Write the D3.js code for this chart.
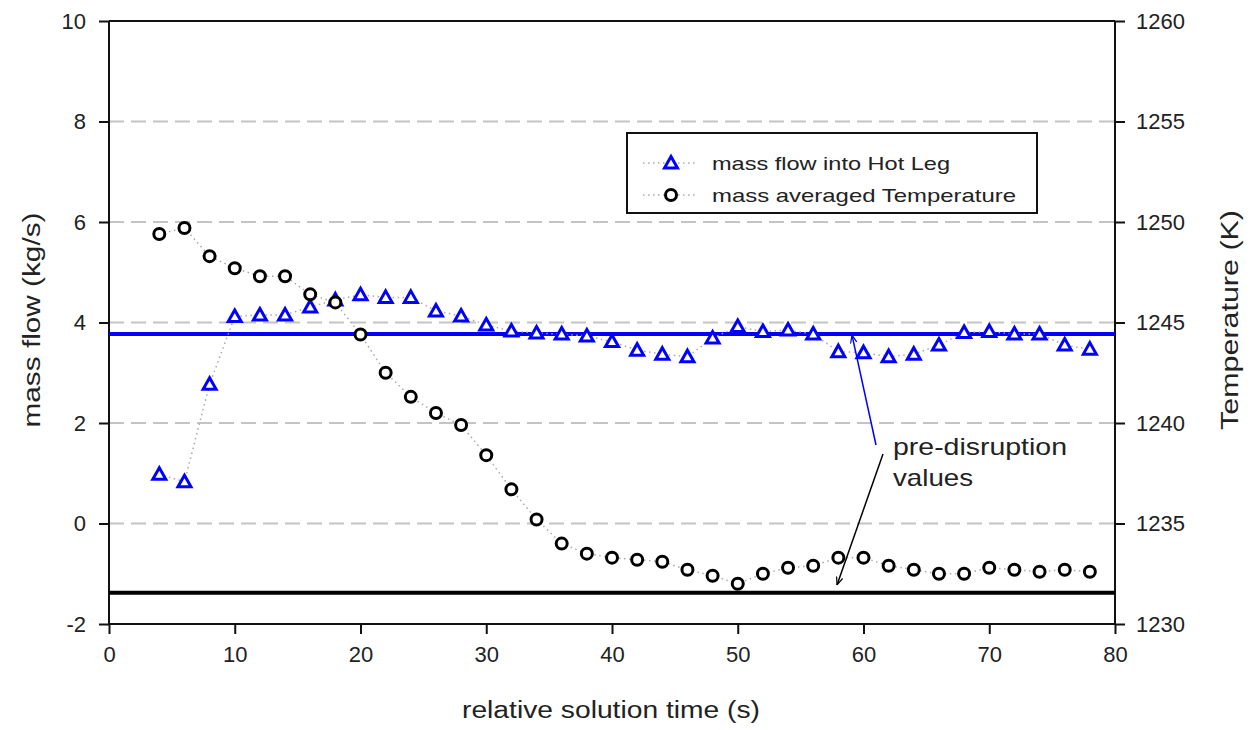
<!DOCTYPE html>
<html><head><meta charset="utf-8">
<script src="https://cdn.jsdelivr.net/npm/d3@7"></script>
<style>body{margin:0;background:#fff}svg{display:block}text{font-family:"Liberation Sans",Arial,sans-serif;fill:#222}</style>
</head><body>
<svg id="c" width="1254" height="730"></svg>
<script>
const times = [4,6,8,10,12,14,16,18,20,22,24,26,28,30,32,34,36,38,40,42,44,46,48,50,52,54,56,58,60,62,64,66,68,70,72,74,76,78];
const massFlow = [0.98,0.83,2.77,4.12,4.15,4.15,4.31,4.45,4.55,4.50,4.50,4.23,4.13,3.95,3.83,3.79,3.77,3.73,3.62,3.45,3.37,3.32,3.69,3.92,3.82,3.85,3.77,3.42,3.40,3.32,3.37,3.55,3.80,3.82,3.77,3.77,3.55,3.47];
const temperature = [1249.4,1249.7,1248.3,1247.7,1247.3,1247.3,1246.4,1246.0,1244.4,1242.5,1241.3,1240.5,1239.9,1238.4,1236.7,1235.2,1234.0,1233.5,1233.3,1233.2,1233.1,1232.7,1232.4,1232.0,1232.5,1232.8,1232.9,1233.3,1233.3,1232.9,1232.7,1232.5,1232.5,1232.8,1232.7,1232.6,1232.7,1232.6];
const preMassFlow = 3.77;
const preTemperature = 1231.55;
const xTicks = [0,10,20,30,40,50,60,70,80];
const yLeftTicks = [-2,0,2,4,6,8,10];
const yRightTicks = [1230,1235,1240,1245,1250,1255,1260];
const legendLabels = ["mass flow into Hot Leg","mass averaged Temperature"];

const svg = d3.select("#c");
const L=109,R=1115,T=21,B=624;
const x = d3.scaleLinear([0,80],[L,R]);
const yL = d3.scaleLinear([-2,10],[B,T]);
const yR = d3.scaleLinear([1230,1260],[B,T]);
const fmt = d => String(d);

// gridlines
svg.append("g").selectAll("line").data(yLeftTicks.filter(v=>v>-2&&v<10)).join("line")
  .attr("x1",L).attr("x2",R).attr("y1",d=>yL(d)).attr("y2",d=>yL(d))
  .attr("stroke","#c4c4c4").attr("stroke-width",2).attr("stroke-dasharray","15,7");

// axes
const fs = "22px";
const ax = svg.append("g").attr("transform",`translate(0,${B})`).call(d3.axisBottom(x).tickValues(xTicks).tickFormat(fmt).tickSize(10).tickPadding(12));
const ayl = svg.append("g").attr("transform",`translate(${L},0)`).call(d3.axisLeft(yL).tickValues(yLeftTicks).tickFormat(fmt).tickSize(10).tickPadding(13));
const ayr = svg.append("g").attr("transform",`translate(${R},0)`).call(d3.axisRight(yR).tickValues(yRightTicks).tickFormat(fmt).tickSize(10).tickPadding(11));
[ax,ayl,ayr].forEach(g=>{
  g.select(".domain").attr("stroke","#111").attr("stroke-width",2);
  g.selectAll(".tick line").attr("stroke","#111").attr("stroke-width",2);
  g.selectAll(".tick text").attr("font-size",fs).attr("fill","#222").attr("font-family","Liberation Sans, Arial, sans-serif");
});
ax.select(".domain").attr("d",`M${L},0H${R}`);
ayl.select(".domain").attr("d",`M0,${T}V${B}`);
ayr.select(".domain").attr("d",`M0,${T}V${B}`);
svg.append("line").attr("x1",L).attr("x2",R).attr("y1",T).attr("y2",T).attr("stroke","#111").attr("stroke-width",2);

// axis titles
svg.append("text").attr("transform","translate(40,320) rotate(-90)").attr("text-anchor","middle")
  .attr("font-size","23px").attr("textLength",215).attr("lengthAdjust","spacingAndGlyphs").text("mass flow (kg/s)");
svg.append("text").attr("transform","translate(1238,320) rotate(-90)").attr("text-anchor","middle")
  .attr("font-size","23px").attr("textLength",220).attr("lengthAdjust","spacingAndGlyphs").text("Temperature (K)");
svg.append("text").attr("x",611).attr("y",718).attr("text-anchor","middle")
  .attr("font-size","23px").attr("textLength",298).attr("lengthAdjust","spacingAndGlyphs").text("relative solution time (s)");

// reference lines
svg.append("line").attr("x1",L).attr("x2",R).attr("y1",yL(preMassFlow)).attr("y2",yL(preMassFlow))
  .attr("stroke","#0000ff").attr("stroke-width",4);
svg.append("line").attr("x1",L).attr("x2",R).attr("y1",yR(preTemperature)).attr("y2",yR(preTemperature))
  .attr("stroke","#000").attr("stroke-width",4);

// connectors
const mfData = times.map((t,i)=>[t,massFlow[i]]);
const tData = times.map((t,i)=>[t,temperature[i]]);
svg.append("path").attr("d",d3.line().x(d=>x(d[0])).y(d=>yL(d[1]))(mfData))
  .attr("fill","none").attr("stroke","#aaa").attr("stroke-width",1.5).attr("stroke-dasharray","1.5,3.5");
svg.append("path").attr("d",d3.line().x(d=>x(d[0])).y(d=>yR(d[1]))(tData))
  .attr("fill","none").attr("stroke","#aaa").attr("stroke-width",1.5).attr("stroke-dasharray","1.5,3.5");

const tri = "M0,-6.5L6.5,5L-6.5,5Z";
svg.append("g").selectAll("path").data(mfData).join("path")
  .attr("transform",d=>`translate(${x(d[0])},${yL(d[1])})`).attr("d",tri)
  .attr("fill","#fff").attr("stroke","#0000ff").attr("stroke-width",3);
svg.append("g").selectAll("circle").data(tData).join("circle")
  .attr("cx",d=>x(d[0])).attr("cy",d=>yR(d[1])).attr("r",5.5)
  .attr("fill","#fff").attr("stroke","#000").attr("stroke-width",3);

// legend
const lg = svg.append("g");
lg.append("rect").attr("x",627).attr("y",133).attr("width",410).attr("height",80)
  .attr("fill","#fff").attr("stroke","#111").attr("stroke-width",2);
legendLabels.forEach((lab,i)=>{
  const cy = 163 + i*32;
  lg.append("line").attr("x1",643).attr("x2",698).attr("y1",cy).attr("y2",cy)
    .attr("stroke","#aaa").attr("stroke-width",1.5).attr("stroke-dasharray","1.5,3.5");
  if(i===0) lg.append("path").attr("transform",`translate(671,${cy})`).attr("d",tri)
    .attr("fill","#fff").attr("stroke","#0000ff").attr("stroke-width",3);
  else lg.append("circle").attr("cx",671).attr("cy",cy).attr("r",5.5)
    .attr("fill","#fff").attr("stroke","#000").attr("stroke-width",3);
  lg.append("text").attr("x",712).attr("y",cy+7).attr("font-size","19px")
    .attr("textLength",i===0?238:304).attr("lengthAdjust","spacingAndGlyphs").text(lab);
});

// annotation
const defs = svg.append("defs");
defs.append("marker").attr("id","ab").attr("viewBox","0 0 10 10").attr("refX",10).attr("refY",5)
  .attr("markerWidth",8).attr("markerHeight",8).attr("orient","auto-start-reverse").attr("markerUnits","userSpaceOnUse")
  .append("path").attr("d","M0,1L10,5L0,9").attr("fill","none").attr("stroke","#000").attr("stroke-width",1.5);
defs.append("marker").attr("id","ablue").attr("viewBox","0 0 10 10").attr("refX",10).attr("refY",5)
  .attr("markerWidth",8).attr("markerHeight",8).attr("orient","auto-start-reverse").attr("markerUnits","userSpaceOnUse")
  .append("path").attr("d","M0,1L10,5L0,9").attr("fill","none").attr("stroke","#0000ff").attr("stroke-width",1.5);
svg.append("line").attr("x1",876).attr("y1",445).attr("x2",852).attr("y2",yL(preMassFlow)+1)
  .attr("stroke","#0000ff").attr("stroke-width",1.5).attr("marker-end","url(#ablue)");
svg.append("line").attr("x1",883).attr("y1",454).attr("x2",837).attr("y2",585)
  .attr("stroke","#000").attr("stroke-width",1.5).attr("marker-end","url(#ab)");
svg.append("text").attr("x",893).attr("y",455).attr("font-size","24px")
  .attr("textLength",174).attr("lengthAdjust","spacingAndGlyphs").text("pre-disruption");
svg.append("text").attr("x",893).attr("y",486).attr("font-size","24px")
  .attr("textLength",80).attr("lengthAdjust","spacingAndGlyphs").text("values");
</script>
</body></html>
